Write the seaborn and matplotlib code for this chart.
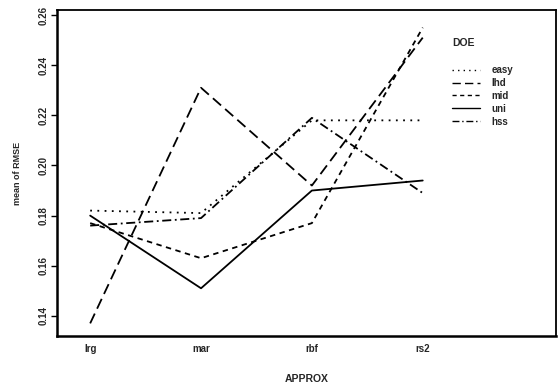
import pandas as pd
import seaborn as sns
import matplotlib.pyplot as plt

approx = ["lrg", "mar", "rbf", "rs2"]
doe = ["easy", "lhd", "mid", "uni", "hss"]
easy = [0.182, 0.181, 0.218, 0.218]
lhd = [0.137, 0.231, 0.192, 0.251]
mid = [0.177, 0.163, 0.177, 0.255]
uni = [0.180, 0.151, 0.190, 0.194]
hss = [0.176, 0.179, 0.219, 0.189]

rows = []
for name, vals in zip(doe, [easy, lhd, mid, uni, hss]):
    for a, v in zip(approx, vals):
        rows.append({"APPROX": a, "mean of RMSE": v, "DOE": name})
df = pd.DataFrame(rows)

sns.set_style("white")
plt.rcParams["font.family"] = ["Liberation Sans", "DejaVu Sans"]

fig = plt.figure(figsize=(5.58, 3.87), dpi=100)
ax = fig.add_axes([0.102, 0.132, 0.894, 0.842])

dashes = {"easy": (1, 3), "lhd": (6, 3), "mid": (3, 2.5), "uni": "", "hss": (5, 2, 1, 2)}
sns.lineplot(data=df, x="APPROX", y="mean of RMSE", hue="DOE", style="DOE",
             palette=["black"] * 5, dashes=dashes, linewidth=1.3, ax=ax,
             sort=False)
for line in ax.get_lines():
    if line.get_label() == "uni":
        line.set_linewidth(1.9)

ax.set_xlim(-0.3, 4.2)
ax.set_ylim(0.132, 0.262)
ax.set_yticks([0.14, 0.16, 0.18, 0.20, 0.22, 0.24, 0.26])
ax.set_yticklabels(["0.14", "0.16", "0.18", "0.20", "0.22", "0.24", "0.26"],
                   rotation=90, va="center", fontsize=7, fontweight="bold")
ax.set_xticks(range(len(approx)))
ax.set_xticklabels(approx, fontsize=7, fontweight="bold")
ax.tick_params(axis="both", length=4, width=1, color="black", pad=2)
ax.tick_params(axis="y", left=True)
ax.tick_params(axis="x", bottom=False)
ax.set_xlabel("APPROX", fontsize=7.5, fontweight="bold")
ax.xaxis.set_label_coords(0.5, -0.117)
ax.set_ylabel("mean of RMSE", fontsize=6.5, fontweight="bold", labelpad=12)
for side in ["left", "bottom"]:
    ax.spines[side].set_linewidth(1.8)
for side in ["top", "right"]:
    ax.spines[side].set_linewidth(1.3)
for s in ax.spines.values():
    s.set_color("black")

handles, labels = ax.get_legend_handles_labels()
leg = ax.legend(handles, labels, title="DOE", loc="upper left",
                bbox_to_anchor=(0.785, 0.925), frameon=False, fontsize=7,
                handlelength=2.8, handletextpad=1.2, labelspacing=0.3,
                borderaxespad=0)
leg.get_title().set_fontweight("bold")
leg.get_title().set_fontsize(7.5)
leg._legend_box.align = "left"
leg._legend_box.sep = 12
for t in leg.get_texts():
    t.set_fontweight("bold")
for h in leg.get_lines():
    h.set_linewidth(1.0)

fig.savefig("out.png", dpi=100)
